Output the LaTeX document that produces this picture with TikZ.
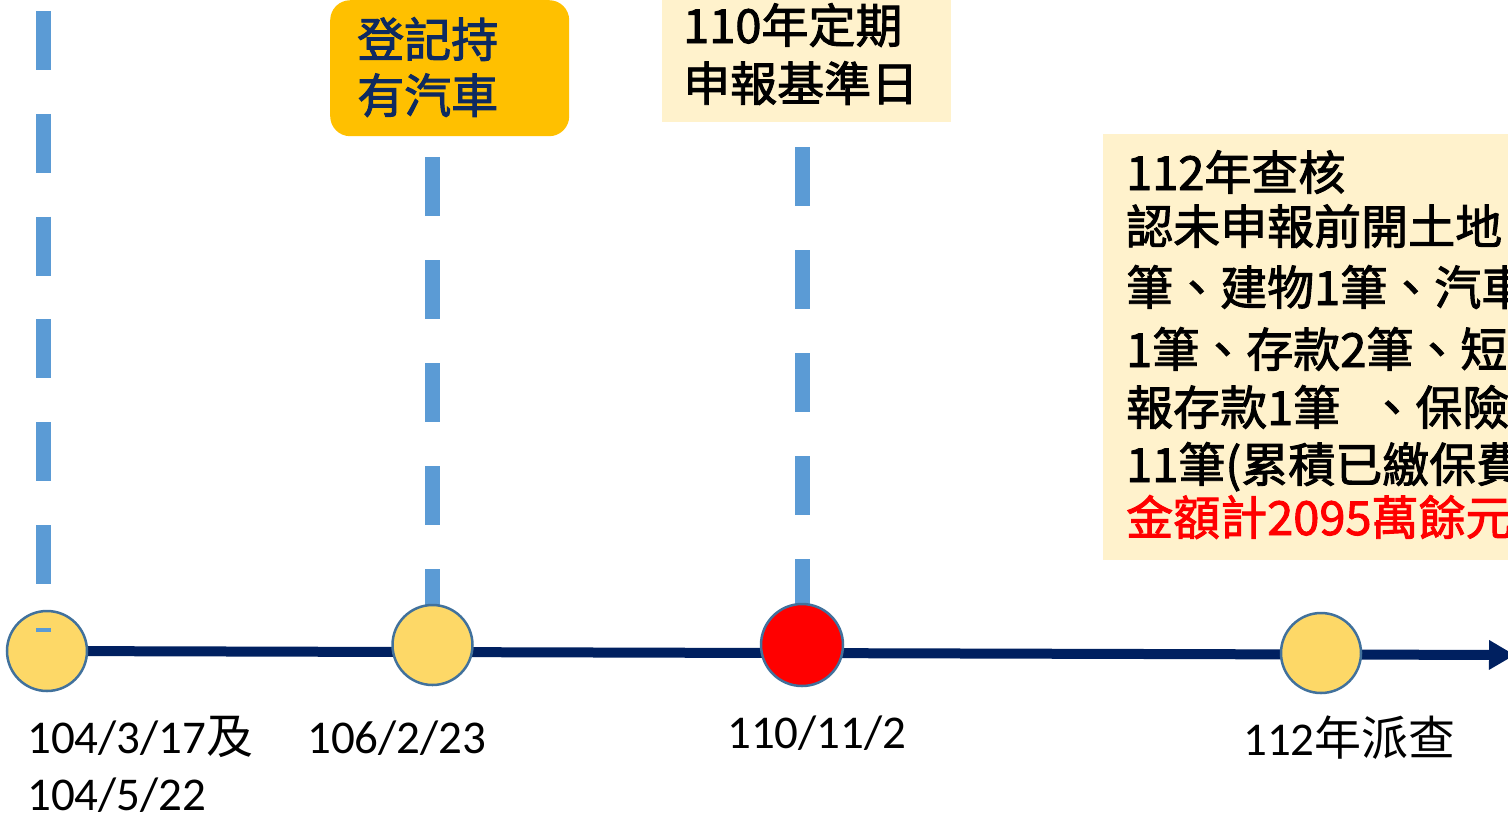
\documentclass[tikz,border=0pt]{standalone}
\usepackage{fontspec}
\usetikzlibrary{arrows.meta}
\newfontfamily\cjk{Noto Sans CJK TC}
\newfontfamily\cjkm{Noto Sans CJK TC}[FakeBold=2]
\newfontfamily\calfont{Carlito}
\definecolor{navy}{HTML}{002060}
\definecolor{dashblue}{HTML}{5B9BD5}
\definecolor{dotfill}{HTML}{FDD867}
\definecolor{dotline}{HTML}{41719C}
\definecolor{boxorange}{HTML}{FFC000}
\definecolor{boxtan}{HTML}{FFF2CC}
\definecolor{boxtext}{HTML}{0E2A60}
\definecolor{alertred}{HTML}{FF0000}
\begin{document}
\begin{tikzpicture}[x=1pt,y=-1pt,
  dot/.style={circle, draw=dotline, line width=2.5pt, fill=dotfill, minimum size=80pt, inner sep=0pt},
  vdash/.style={draw=dashblue, line width=15pt, dash pattern=on 59pt off 44pt},
  timeline/.style={draw=navy, line width=10pt},
  boxtxt/.style={anchor=base west, inner sep=0pt, font=\cjkm\fontsize{47}{56}\selectfont},
  datetxt/.style={anchor=base west, inner sep=0pt, font=\fontsize{47}{56}\selectfont},
  panel/.style={anchor=north west, inner sep=0pt},
]
\useasboundingbox (0,0) rectangle (1508,815);

% boxes
\node[panel, fill=boxorange, rounded corners=20pt, minimum width=239pt, minimum height=136pt] (b1) at (330,0) {};
\node[panel, fill=boxtan, minimum width=289pt, minimum height=127pt] (b2) at (662,-5) {};
\node[panel, fill=boxtan, minimum width=420pt, minimum height=426pt] (b3) at (1103,134) {};

% anchor points
\coordinate (p1) at (47,651);
\coordinate (p2) at (432.5,645);
\coordinate (p3) at (802,645);
\coordinate (p4) at (1321,653);
\coordinate (tlend) at (1515,655);

% timeline
\draw[timeline, -{Triangle[length=26pt,width=28pt]}] (p1) -- (tlend);

% dashed verticals (behind circles 2,3)
\coordinate (d2top) at (432.5,157);
\coordinate (d3top) at (802,147);
\draw[vdash] (d2top) -- (p2);
\draw[vdash] (d3top) -- (p3);

% circles
\node[dot] (c1) at (p1) {};
\node[dot] (c2) at (p2) {};
\node[dot, fill=alertred, minimum size=82pt] (c3) at (p3) {};
\node[dot] (c4) at (p4) {};

% dashed vertical 1 (over circle 1)
\coordinate (d1top) at (43.5,11);
\coordinate (d1bot) at (43.5,632);
\draw[vdash, dash pattern=on 59pt off 43.8pt] (d1top) -- (d1bot);

% box texts
\node[boxtxt, text=boxtext] (t1a) at (357,57) {登記持};
\node[boxtxt, text=boxtext] (t1b) at (357,113) {有汽車};
\node[boxtxt] (t2a) at (683,43) {110年定期};
\node[boxtxt] (t2b) at (683,101) {申報基準日};

\node[boxtxt] (r1) at (1126,190) {112年查核};
\node[boxtxt] (r2) at (1126,244) {認未申報前開土地};
\node[boxtxt] (r3) at (1126,305) {筆、建物1筆、汽車};
\node[boxtxt] (r4) at (1126,367) {1筆、存款2筆、短};
\node[boxtxt] (r5) at (1126,425) {報存款1筆\hspace{0.6em}、保險};
\node[boxtxt] (r6) at (1126,482) {11筆(累積已繳保費};
\node[boxtxt, text=alertred] (r7) at (1126,535) {金額計2095萬餘元};

% date labels
\node[datetxt] (l1a) at (27,753) {\calfont 104/3/17\cjk 及};
\node[datetxt] (l1b) at (27,810) {\calfont 104/5/22};
\node[datetxt] (l2) at (307,753) {\calfont 106/2/23};
\node[datetxt] (l3) at (727,748) {\calfont 110/11/2};
\node[datetxt] (l4) at (1243,755) {\calfont 112\cjk 年派查};
\end{tikzpicture}
\end{document}
